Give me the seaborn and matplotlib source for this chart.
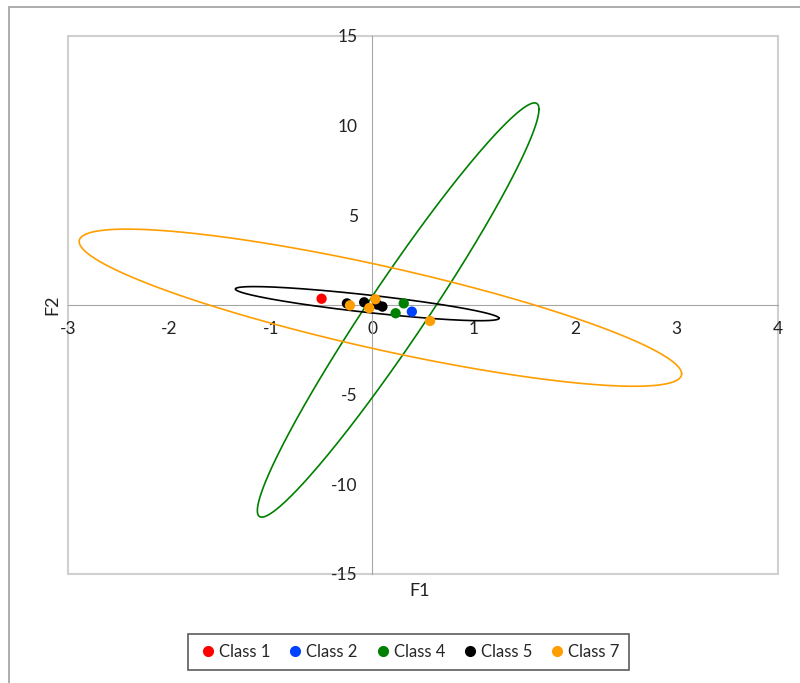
import numpy as np
import pandas as pd
import seaborn as sns
import matplotlib.pyplot as plt
from matplotlib.patches import Rectangle
from matplotlib.lines import Line2D

f1 = [-0.50, 0.39, 0.31, 0.23, -0.25, -0.08, 0.05, 0.10, -0.22, 0.03, -0.03, 0.57]
f2 = [0.35, -0.37, 0.09, -0.46, 0.09, 0.15, 0.02, -0.09, -0.02, 0.32, -0.17, -0.89]
cls = ["Class 1", "Class 2", "Class 4", "Class 4", "Class 5", "Class 5", "Class 5",
       "Class 5", "Class 7", "Class 7", "Class 7", "Class 7"]

classes = ["Class 1", "Class 2", "Class 4", "Class 5", "Class 7"]
colors = ["#FF0000", "#0040FF", "#008000", "#000000", "#FF9E00"]

# confidence ellipses: centre and covariance (sxx, sxy, syy)
ell_classes = ["Class 4", "Class 5", "Class 7"]
ell_center = [(0.255, -0.28), (-0.05, 0.075), (0.08, -0.15)]
ell_cov = [(1.927, 15.53, 133.4), (1.69, -1.06, 0.905), (8.82, -10.95, 19.2)]

df = pd.DataFrame({"F1": f1, "F2": f2, "cls": cls})
palette = dict(zip(classes, colors))

sns.set_style("white")
plt.rcParams["font.family"] = ["Lato", "DejaVu Sans"]
plt.rcParams["axes.unicode_minus"] = False

fig = plt.figure(figsize=(8, 6.83), dpi=100)
ax = fig.add_axes([0.085, 0.1596, 0.8875, 0.7877])

# outer chart border
fig.patches.append(Rectangle((9 / 800, -0.05), 1.2, 1.05 - 7 / 683, transform=fig.transFigure,
                             fill=False, edgecolor="#a0a0a0", lw=1.2))

t = np.linspace(0, 2 * np.pi, 400)
for c, (cx, cy), (sxx, sxy, syy) in zip(ell_classes, ell_center, ell_cov):
    L = np.linalg.cholesky(np.array([[sxx, sxy], [sxy, syy]]))
    pts = L @ np.vstack([np.cos(t), np.sin(t)])
    ax.plot(cx + pts[0], cy + pts[1], color=palette[c], lw=1.2, zorder=2)

sns.scatterplot(data=df, x="F1", y="F2", hue="cls", palette=palette, hue_order=classes,
                s=55, edgecolor="none", ax=ax, legend=False, zorder=3)

ax.set_xlim(-3, 4)
ax.set_ylim(-15, 15)
ax.set_xticks(range(-3, 5))
ax.set_yticks([-15, -10, -5, 5, 10, 15])
ax.set_xlabel("")
ax.set_ylabel("")

for s in ["top", "right"]:
    ax.spines[s].set_visible(False)
ax.spines["left"].set_position(("data", 0))
ax.spines["bottom"].set_position(("data", 0))
ax.spines["left"].set_color("#a6a6a6")
ax.spines["bottom"].set_color("#a6a6a6")
ax.spines["left"].set_zorder(1)
ax.spines["bottom"].set_zorder(1)
ax.tick_params(axis="both", direction="inout", length=9, width=1, color="#a6a6a6",
               labelsize=12.5, labelcolor="#222222")
ax.tick_params(axis="y", pad=6)
ax.tick_params(axis="x", pad=7)

# plot-area border
ax.add_patch(Rectangle((0, 0), 1, 1, transform=ax.transAxes, fill=False,
                       edgecolor="#d0d0d0", lw=1.5, zorder=0, clip_on=False))

fig.text(0.525, 0.1347, "F1", ha="center", va="center", fontsize=13, color="#222222")
fig.text(0.066, 0.5534, "F2", ha="center", va="center", fontsize=13, rotation=90,
         color="#222222")

handles = [Line2D([], [], marker="o", ls="", color=col, markersize=7) for col in colors]
leg = fig.legend(handles, classes, loc="center", bbox_to_anchor=(0.511, 0.0454), ncol=5,
                 frameon=True, fancybox=False, fontsize=12, handletextpad=0.05,
                 columnspacing=0.9, handlelength=1.2, borderpad=0.6, borderaxespad=0)
leg.get_frame().set_edgecolor("#333333")
leg.get_frame().set_linewidth(1.2)

fig.savefig("out.png", dpi=100)
